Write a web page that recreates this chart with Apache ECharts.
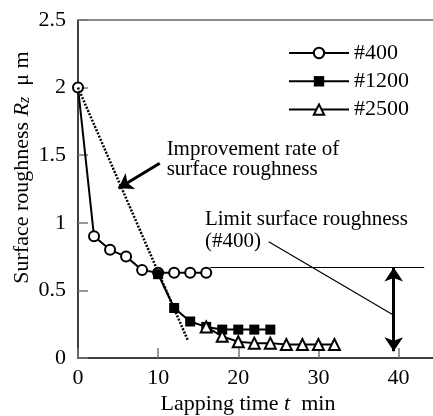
<!DOCTYPE html>
<html>
<head>
<meta charset="utf-8">
<script src="https://cdn.jsdelivr.net/npm/echarts@6/dist/echarts.min.js"></script>
<style>
  html, body { margin: 0; padding: 0; background: #fff; }
  #chart { width: 433px; height: 416px; }
</style>
</head>
<body>
<div id="chart"></div>
<script>
// lapping time (min) and Rz (um) for each abrasive grade
const t400 = [0, 2, 4, 6, 8, 10, 12, 14, 16];
const rz400 = [2.0, 0.9, 0.8, 0.75, 0.65, 0.63, 0.63, 0.63, 0.63];
const t1200 = [10, 12, 14, 16, 18, 20, 22, 24];
const rz1200 = [0.62, 0.37, 0.27, 0.23, 0.21, 0.21, 0.21, 0.21];
const t2500 = [16, 18, 20, 22, 24, 26, 28, 30, 32];
const rz2500 = [0.23, 0.16, 0.12, 0.11, 0.11, 0.10, 0.10, 0.10, 0.10];

const xTicks = [0, 10, 20, 30, 40];
const yTicks = [0, 0.5, 1, 1.5, 2, 2.5];

// annotation anchors in data units
const rateLine = [[0, 2], [13.75, 0.125]];
const rateArrow = [[10.2, 1.44], [5.05, 1.255]];
const limitLine = [[16.5, 0.67], [43.2, 0.67]];
const limitArrow = [[39.4, 0.67], [39.4, 0.05]];
const limitPointer = [[23.8, 0.86], [39.3, 0.32]];
const rateText = [11.06, 1.467];
const limitText = [15.84, 0.94];

const serif = '"Liberation Serif", "Times New Roman", serif';
const pair = (xs, ys) => xs.map((x, i) => [x, ys[i]]);
const seg = (p, sym, style) => [{ coord: p[0], symbol: sym[0] }, { coord: p[1], symbol: sym[1], lineStyle: style }];

const chart = echarts.init(document.getElementById('chart'));

const option = {
  animation: false,
  backgroundColor: '#fff',
  textStyle: { fontFamily: serif, color: '#000' },
  grid: { left: 78, right: 0, top: 20, bottom: 58, outerBoundsMode: 'none', containLabel: false },
  legend: {
    left: 283, top: 37, orient: 'vertical',
    itemWidth: 60, itemHeight: 13, itemGap: 6.3,
    textStyle: { fontFamily: serif, fontSize: 22, color: '#000', lineHeight: 22 },
    data: ['#400', '#1200', '#2500']
  },
  xAxis: [{
    type: 'value', min: 0, max: 44.3, interval: 10,
    name: 'Lapping time {i|t}  min', nameLocation: 'middle', nameGap: 35, nameMoveOverlap: false,
    nameTextStyle: {
      fontFamily: serif, fontSize: 22, color: '#000', padding: [0, 15, 0, 0],
      rich: { i: { fontFamily: serif, fontSize: 22, fontStyle: 'italic' } }
    },
    axisLine: { lineStyle: { color: '#000', width: 1.5 } },
    axisTick: { inside: true, length: 10, lineStyle: { color: '#777', width: 1.5 } },
    axisLabel: { fontFamily: serif, fontSize: 22, color: '#000', margin: 9, showMaxLabel: false },
    splitLine: { show: false }
  }, {
    type: 'value', position: 'top', min: 0, max: 44.3,
    axisLine: { show: true, lineStyle: { color: '#666', width: 1.5 } },
    axisTick: { show: false }, axisLabel: { show: false }, splitLine: { show: false }
  }],
  yAxis: {
    type: 'value', min: 0, max: 2.5, interval: 0.5,
    name: 'Surface roughness {i|R}{s|z}  μ m', nameLocation: 'middle', nameGap: 45, nameMoveOverlap: false,
    nameTextStyle: {
      fontFamily: serif, fontSize: 22, color: '#000', padding: [0, 0, 0, 43],
      rich: {
        i: { fontFamily: serif, fontSize: 22, fontStyle: 'italic' },
        s: { fontFamily: serif, fontSize: 16, fontStyle: 'italic', verticalAlign: 'bottom' }
      }
    },
    axisLine: { lineStyle: { color: '#000', width: 1.5 } },
    axisTick: { inside: true, length: 10, lineStyle: { color: '#777', width: 1.5 } },
    axisLabel: {
      fontFamily: serif, fontSize: 22, color: '#000', margin: 12,
      formatter: v => (yTicks.indexOf(v) >= 0 ? String(v) : '')
    },
    splitLine: { show: false }
  },
  series: [
    {
      name: '#400', type: 'line', data: pair(t400, rz400), z: 2,
      symbol: 'emptyCircle', symbolSize: 10,
      lineStyle: { color: '#000', width: 2 },
      itemStyle: { color: '#000', borderWidth: 1 },
      markLine: {
        silent: true, label: { show: false }, symbolSize: 14,
        lineStyle: { color: '#000', type: 'solid' },
        data: [
          seg(rateLine, ['none', 'none'], { width: 2.5, type: [2, 1.5] }),
          seg(rateArrow, ['none', 'arrow'], { width: 3 }),
          seg(limitLine, ['none', 'none'], { width: 1 }),
          seg(limitArrow, ['arrow', 'arrow'], { width: 3 }),
          seg(limitPointer, ['none', 'none'], { width: 1.2 })
        ]
      },
      markPoint: {
        silent: true, symbol: 'circle', symbolSize: 0,
        label: {
          show: true, position: 'right', distance: 0,
          fontFamily: serif, fontSize: 21, color: '#000', align: 'left'
        },
        data: [
          { coord: rateText, value: 0, label: { lineHeight: 20, formatter: 'Improvement rate of\nsurface roughness' } },
          { coord: limitText, value: 0, label: { lineHeight: 22, formatter: 'Limit surface roughness\n(#400)' } }
        ]
      }
    },
    {
      name: '#1200', type: 'line', data: pair(t1200, rz1200), z: 3,
      symbol: 'rect', symbolSize: 10,
      lineStyle: { color: '#000', width: 2 },
      itemStyle: { color: '#000' }
    },
    {
      name: '#2500', type: 'line', data: pair(t2500, rz2500), z: 4,
      symbol: 'emptyTriangle', symbolSize: 11,
      lineStyle: { color: '#000', width: 2 },
      itemStyle: { color: '#000', borderWidth: 1 }
    }
  ]
};

chart.setOption(option);
</script>
</body>
</html>
